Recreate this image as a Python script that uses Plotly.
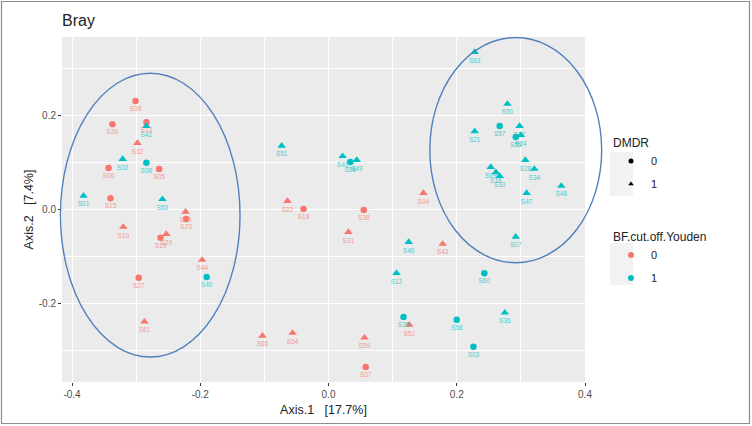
import plotly.graph_objects as go

# ---------------- data ----------------
labels = ["S39","S30","S13","S42","S32","S02","S08","S06","S05","S01","S15","S53","S20","S23","S10",
          "S19","S29","S44","S27","S40","S61",
          "S51","S41","S56","S49","S22","S18","S38","S31","S46","S12","S35","S52","S65","S54","S59","S37","S04","S43",
          "S63","S50","S21","S57","S17","S55","S24","S28","S34","S09","S16","S33","S48","S47","S07","S60","S58","S36","S03"]
axis1 = [-0.301,-0.337,-0.284,-0.284,-0.298,-0.321,-0.284,-0.343,-0.264,-0.382,-0.340,-0.259,-0.223,-0.222,-0.320,
         -0.262,-0.253,-0.197,-0.296,-0.190,-0.287,
         -0.073,0.022,0.034,0.044,-0.064,-0.039,0.055,0.031,0.125,0.106,0.117,0.126,-0.103,-0.056,0.056,0.058,0.148,0.178,
         0.228,0.279,0.228,0.267,0.298,0.292,0.300,0.307,0.321,0.253,0.261,0.267,0.363,0.309,0.292,0.243,0.200,0.275,0.226]
axis2 = [0.230,0.181,0.185,0.177,0.141,0.107,0.099,0.088,0.086,0.029,0.024,0.022,-0.005,-0.020,-0.037,
         -0.060,-0.052,-0.107,-0.145,-0.143,-0.238,
         0.135,0.113,0.101,0.105,0.018,0.001,-0.001,-0.048,-0.069,-0.135,-0.228,-0.245,-0.268,-0.262,-0.272,-0.334,0.035,-0.073,
         0.334,0.224,0.166,0.177,0.177,0.154,0.158,0.105,0.086,0.090,0.079,0.071,0.050,0.035,-0.058,-0.135,-0.234,-0.219,-0.291]
dmdr = [0,0,0,1,1,1,0,0,0,1,0,1,1,0,1,
        0,1,1,0,0,1,
        1,1,0,1,1,0,0,1,1,1,0,1,1,1,1,0,1,1,
        1,1,1,0,1,0,1,1,1,1,1,1,1,1,1,0,0,1,0]
youden = [0,0,0,1,0,1,1,0,0,1,0,1,0,0,0,
          0,0,0,0,1,0,
          1,1,1,1,0,0,0,0,1,1,1,0,0,0,0,0,0,0,
          1,1,1,1,1,1,1,1,1,1,1,1,1,1,1,1,1,1,1]

dmdr_levels = ["0", "1"]
youden_levels = ["0", "1"]
x_ticks = [-0.4, -0.2, 0.0, 0.2, 0.4]
x_tick_text = ["-0.4", "-0.2", "0.0", "0.2", "0.4"]
y_ticks = [-0.2, 0.0, 0.2]
y_tick_text = ["-0.2", "0.0", "0.2"]

# ellipses (data units): centre x, centre y, radius x, radius y
ell_cx = [-0.278, 0.292]
ell_cy = [-0.012, 0.126]
ell_rx = [0.140, 0.134]
ell_ry = [0.301, 0.239]

# ---------------- styling ----------------
W, H = 752, 426
ML, MR, MT, MB = 62, 167, 37, 44
XR = [-0.4156, 0.4]
YR = [-0.366, 0.366]
colors = {0: "#F8766D", 1: "#00BFC4"}
text_colors = {0: "rgba(248,118,109,0.75)", 1: "rgba(0,191,196,0.75)"}
symbols = {0: "circle", 1: "triangle-up"}
sizes = {0: 6.5, 1: 7.5}

fig = go.Figure()

for c in (0, 1):
    for s in (0, 1):
        idx = [i for i in range(len(labels)) if youden[i] == c and dmdr[i] == s]
        if not idx:
            continue
        fig.add_trace(go.Scatter(
            x=[axis1[i] for i in idx], y=[axis2[i] for i in idx],
            text=[labels[i] for i in idx],
            mode="markers+text", textposition="bottom center",
            textfont=dict(size=6.5, color=text_colors[c], family="Liberation Sans"),
            marker=dict(color=colors[c], symbol=symbols[s], size=sizes[s], line=dict(width=0)),
            showlegend=False, cliponaxis=False, hoverinfo="skip"))

# legend entries
for s, lev in zip((0, 1), dmdr_levels):
    fig.add_trace(go.Scatter(x=[None], y=[None], mode="markers", name=lev, legend="legend",
                             legendgroup="d" + lev,
                             marker=dict(color="black", symbol=symbols[s], size=5)))
for c, lev in zip((0, 1), youden_levels):
    fig.add_trace(go.Scatter(x=[None], y=[None], mode="markers", name=lev, legend="legend2",
                             legendgroup="y" + lev,
                             marker=dict(color=colors[c], symbol="circle", size=6)))

pw, ph = W - ML - MR, H - MT - MB


def xp(v):
    return (v - XR[0]) / (XR[1] - XR[0])


def yp(v):
    return (v - YR[0]) / (YR[1] - YR[0])


def pxp(px):
    return (px - ML) / pw


def pyp(py):
    return (H - MB - py) / ph


shapes = []
# legend key backgrounds
for (ky0, ky1) in [(152, 196), (243, 285)]:
    shapes.append(dict(type="rect", xref="paper", yref="paper", layer="below",
                       x0=pxp(610), x1=pxp(633), y0=pyp(ky1), y1=pyp(ky0),
                       fillcolor="#F2F2F2", line=dict(width=0)))
for cx, cy, rx, ry in zip(ell_cx, ell_cy, ell_rx, ell_ry):
    shapes.append(dict(type="circle", xref="paper", yref="paper",
                       x0=xp(cx - rx), x1=xp(cx + rx), y0=yp(cy - ry), y1=yp(cy + ry),
                       line=dict(color="#4F81BD", width=1.4), layer="above"))
# outer border
shapes.append(dict(type="rect", xref="paper", yref="paper",
                   x0=pxp(1.5), x1=pxp(749.5), y0=pyp(423.5), y1=pyp(1.5),
                   line=dict(color="#8c8c8c", width=1.2)))

axis_common = dict(showline=False, zeroline=False, ticks="outside", ticklen=3, tickcolor="#333333",
                   tickfont=dict(size=10, color="#4D4D4D", family="Liberation Sans"),
                   gridcolor="white", gridwidth=1.1,
                   minor=dict(showgrid=True, gridcolor="white", gridwidth=0.5, ticks=""))

fig.update_layout(
    width=W, height=H,
    margin=dict(l=ML, r=MR, t=MT, b=MB),
    paper_bgcolor="white", plot_bgcolor="#EBEBEB",
    font=dict(family="Liberation Sans", color="#333333"),
    title=dict(text="Bray", x=pxp(62), xanchor="left", xref="paper",
               y=1 - 20 / H, yanchor="middle", font=dict(size=16, color="#222222")),
    xaxis=dict(range=XR, tickvals=x_ticks, ticktext=x_tick_text, **axis_common,
               title=dict(text="Axis.1   [17.7%]", font=dict(size=12.5, color="#222222"), standoff=6)),
    yaxis=dict(range=YR, tickvals=y_ticks, ticktext=y_tick_text, **axis_common,
               title=dict(text="Axis.2   [7.4%]", font=dict(size=12.5, color="#222222"), standoff=2)),
    shapes=shapes,
    legend=dict(title=dict(text="DMDR", font=dict(size=12, color="#222222")),
                x=pxp(611), y=pyp(131), xanchor="left", yanchor="top",
                bgcolor="rgba(0,0,0,0)", font=dict(size=11, color="#222222"),
                itemwidth=30, tracegroupgap=4),
    legend2=dict(title=dict(text="BF.cut.off.Youden", font=dict(size=12, color="#222222")),
                 x=pxp(611), y=pyp(225), xanchor="left", yanchor="top",
                 bgcolor="rgba(0,0,0,0)", font=dict(size=11, color="#222222"),
                 itemwidth=30, tracegroupgap=4),
)
fig.update_xaxes(minor=dict(tickvals=[-0.3, -0.1, 0.1, 0.3]))
fig.update_yaxes(minor=dict(tickvals=[-0.3, -0.1, 0.1, 0.3]))

fig.write_html("out.html", config={"displayModeBar": False},
               post_script="document.body.style.margin='0px';document.body.style.overflow='hidden';")
